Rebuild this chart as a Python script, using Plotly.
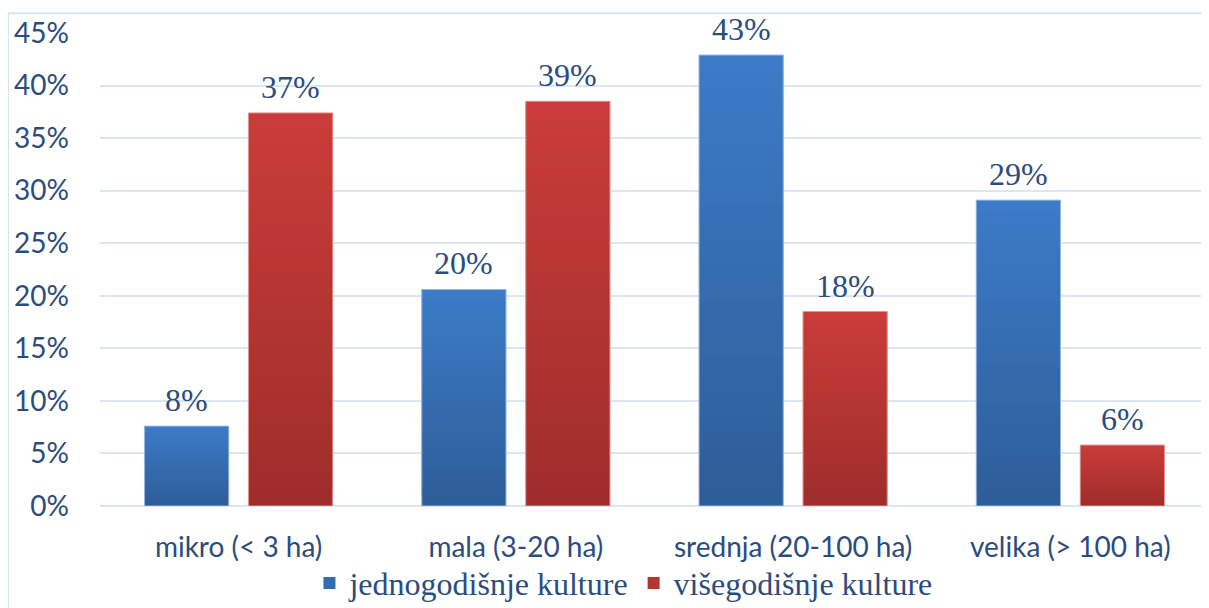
import plotly.graph_objects as go

categories = ["mikro (< 3 ha)", "mala (3-20 ha)", "srednja (20-100 ha)", "velika (> 100 ha)"]
series_names = ["jednogodišnje kulture", "višegodišnje kulture"]
jednogodisnje = [7.6, 20.6, 42.9, 29.1]
visegodisnje = [37.4, 38.5, 18.5, 5.8]
labels_jedno = ["8%", "20%", "43%", "29%"]
labels_vise = ["37%", "39%", "18%", "6%"]
y_ticks = [0, 5, 10, 15, 20, 25, 30, 35, 40, 45]
y_tick_text = ["0%", "5%", "10%", "15%", "20%", "25%", "30%", "35%", "40%", "45%"]

text_color = "#2B4C7E"
N_SEG = 24


def lerp(c1, c2, t):
    a = [int(c1[i:i + 2], 16) for i in (1, 3, 5)]
    b = [int(c2[i:i + 2], 16) for i in (1, 3, 5)]
    return "rgb(%d,%d,%d)" % tuple(round(a[k] + (b[k] - a[k]) * t) for k in range(3))


series = [
    (series_names[0], jednogodisnje, labels_jedno, "#2D5D98", "#3D7BC8", "g1", -52),
    (series_names[1], visegodisnje, labels_vise, "#9E2D2B", "#CA3C39", "g2", 52),
]

fig = go.Figure()
for name, vals, labs, c_bottom, c_top, grp, shift in series:
    for k in range(N_SEG):
        t = (k + 0.5) / N_SEG
        seg_h = [(min(k + 2, N_SEG) - k) * v / N_SEG for v in vals]
        fig.add_trace(go.Bar(
            x=categories,
            y=seg_h,
            base=[v * k / N_SEG for v in vals],
            offsetgroup=grp, name=name, legendgroup=grp,
            showlegend=(k == N_SEG // 2),
            marker=dict(color=lerp(c_bottom, c_top, t), line=dict(width=0)),
            hoverinfo="skip",
        ))
    # thin outline
    fig.add_trace(go.Bar(
        x=categories, y=vals, offsetgroup=grp, name=name, legendgroup=grp, showlegend=False,
        marker=dict(color="rgba(0,0,0,0)", line=dict(width=1, color=lerp(c_top, "#FFFFFF", 0.45))),
    ))
    for cat, v, lab in zip(categories, vals, labs):
        fig.add_annotation(x=cat, y=v, text=lab, showarrow=False, xshift=shift, yshift=6,
                           yanchor="bottom",
                           font=dict(family="Liberation Serif", size=32, color=text_color))

fig.update_layout(
    width=1201, height=600,
    margin=dict(l=92, r=0, t=25, b=102, autoexpand=False),
    paper_bgcolor="white", plot_bgcolor="white",
    barmode="group", bargap=0.25, bargroupgap=0.19,
    font=dict(family="Lato", size=28, color=text_color),
    showlegend=True,
    legend=dict(orientation="h", x=0.472, xanchor="center", y=-0.163, yanchor="middle",
                bgcolor="rgba(0,0,0,0)",
                font=dict(family="Liberation Serif", size=32, color=text_color),
                itemwidth=30, tracegroupgap=0, traceorder="normal"),
    shapes=[dict(type="rect", xref="paper", yref="paper", x0=-0.083, x1=1.05, y0=-0.5, y1=1.042,
                 line=dict(color="#D6E2F2", width=2), fillcolor="rgba(0,0,0,0)", layer="below")],
)
fig.update_yaxes(range=[0, 45], tickvals=y_ticks, ticktext=y_tick_text, showgrid=True,
                 gridcolor="#DCE6F3", gridwidth=1.5, zeroline=True, zerolinecolor="#DCE6F3",
                 zerolinewidth=1.5, showline=False, ticklabelstandoff=30,
                 tickfont=dict(family="Lato", size=28, color=text_color))
fig.update_xaxes(showline=False, ticks="", ticklabelstandoff=22,
                 tickfont=dict(family="Lato", size=28, color=text_color))

fig.write_html("out.html")
